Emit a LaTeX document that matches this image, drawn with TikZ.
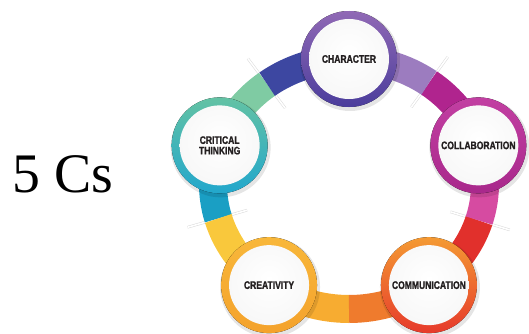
\documentclass[tikz,border=0pt]{standalone}
\usepackage{fontspec}
\setmainfont{Liberation Serif}
\newfontfamily\labfont[FakeStretch=0.78, FakeBold=1.2]{Liberation Sans Bold}
\usetikzlibrary{calc}
\definecolor{txt}{HTML}{231F20}
\definecolor{bBlue}{HTML}{3D47A1}
\definecolor{bGreen}{HTML}{7FCBA3}
\definecolor{bLav}{HTML}{9C7CBF}
\definecolor{bMag}{HTML}{B0248E}
\definecolor{bPink}{HTML}{D64BA1}
\definecolor{bRed}{HTML}{E1302C}
\definecolor{bOrange}{HTML}{EF7B2D}
\definecolor{bAmber}{HTML}{F7AC31}
\definecolor{bYellow}{HTML}{F9C83C}
\definecolor{bTeal}{HTML}{1A9FC4}
\definecolor{rAt}{HTML}{9069B5}\definecolor{rAb}{HTML}{4B3D9C}
\definecolor{rBt}{HTML}{C23FA2}\definecolor{rBb}{HTML}{A8288B}
\definecolor{rCt}{HTML}{F49A33}\definecolor{rCb}{HTML}{E63A2B}
\definecolor{rDt}{HTML}{F8B73A}\definecolor{rDb}{HTML}{F4A22C}
\definecolor{rEt}{HTML}{63C2A4}\definecolor{rEb}{HTML}{22A7CC}
\pgfdeclareradialshading{diskshade}{\pgfpoint{0bp}{4bp}}{color(0bp)=(white); color(28bp)=(white!94!gray); color(44bp)=(gray!22); color(50bp)=(gray!38)}
\tikzset{
  band/.style={line width=28bp, line cap=butt},
  tickline/.style={draw=gray!30, line width=0.5bp, double=white, double distance=1.6bp},
  disk/.style={circle, minimum size=80bp, inner sep=0pt, shading=diskshade, text=txt,
    align=center, font=\labfont\fontsize{11}{10.5}\selectfont},
  ellarc/.style={x radius=136, y radius=125}
}
\begin{document}
\begin{tikzpicture}[x=1bp, y=1bp]
\useasboundingbox (0,0) rectangle (529,333);
\coordinate (O) at (349,149);
\coordinate (pA) at ($(O)+(90:136 and 125)$);
\coordinate (pB) at ($(O)+(18:136 and 125)$);
\coordinate (pC) at ($(O)+(-54:136 and 125)$);
\coordinate (pD) at ($(O)+(-126:136 and 125)$);
\coordinate (pE) at ($(O)+(162:136 and 125)$);
% divider ticks (under the band)
\foreach \a/\n in {127/d1, 54/d2, -17/d3, -90/d4, 196/d5}{
  \coordinate (\n i) at ($(O)+(\a:106 and 95)$);
  \coordinate (\n o) at ($(O)+(\a:168 and 157)$);
  \draw[tickline] (\n i) -- (\n o);
}
\coordinate (d1) at ($(O)+(127:136 and 125)$);
\coordinate (d2) at ($(O)+(54:136 and 125)$);
\coordinate (d3) at ($(O)+(-17:136 and 125)$);
\coordinate (d4) at ($(O)+(-90:136 and 125)$);
\coordinate (d5) at ($(O)+(196:136 and 125)$);
% band segments
\draw[band, bGreen] (pE) arc[start angle=162, end angle=127, ellarc];
\draw[band, bBlue] (pA) arc[start angle=90, end angle=127, ellarc];
\draw[band, bMag] (pB) arc[start angle=18, end angle=54, ellarc];
\draw[band, bLav] (pA) arc[start angle=90, end angle=54, ellarc];
\draw[band, bRed] (pC) arc[start angle=-54, end angle=-17, ellarc];
\draw[band, bPink] (pB) arc[start angle=18, end angle=-17, ellarc];
\draw[band, bAmber] (pD) arc[start angle=-126, end angle=-90, ellarc];
\draw[band, bOrange] (pC) arc[start angle=-54, end angle=-90, ellarc];
\draw[band, bTeal] (pE) arc[start angle=162, end angle=196, ellarc];
\draw[band, bYellow] (pD) arc[start angle=-126, end angle=-164, ellarc];
% circles
\foreach \p/\c in {pA/A, pB/B, pC/C, pD/D, pE/E}{
  \fill[black, opacity=0.10] ($(\p)+(1,-2)$) circle (50);
  \fill[top color=r\c t, bottom color=r\c b] (\p) circle (48);
}
\node[disk] (A) at (pA) {CHARACTER};
\node[disk] (B) at (pB) {COLLABORATION};
\node[disk] (C) at (pC) {COMMUNICATION};
\node[disk] (D) at (pD) {CREATIVITY};
\node[disk] (E) at (pE) {CRITICAL\\THINKING};
\node[anchor=base, font=\fontsize{56}{60}\selectfont, inner sep=0pt] (title) at (63,141) {5 Cs};
\end{tikzpicture}
\end{document}
